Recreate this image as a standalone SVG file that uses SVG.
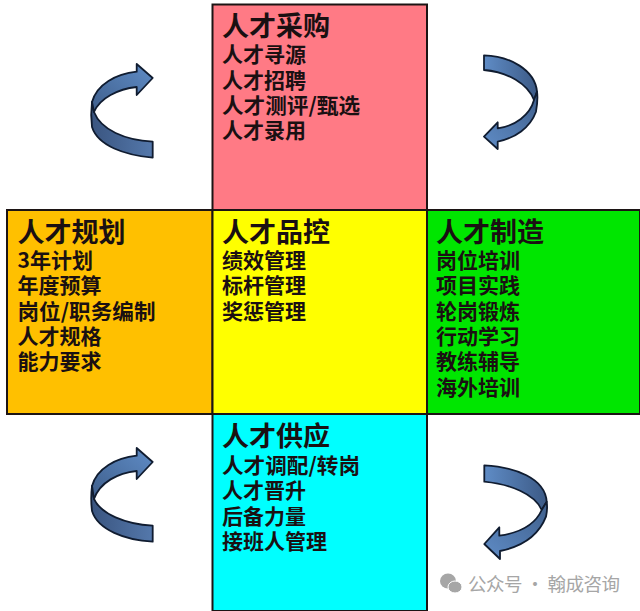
<svg xmlns="http://www.w3.org/2000/svg" width="640" height="611" viewBox="0 0 640 611">
<style>
.box{stroke:#1c1414;stroke-width:2}
.t{font-family:"Noto Sans CJK SC","Liberation Sans",sans-serif;font-weight:700;fill:#1a1012}
.h{font-size:27px}
.i{font-size:21px}
.w{font-family:"Noto Sans CJK SC","Liberation Sans",sans-serif;font-size:18.500px;fill:#a6a6a6}
.ar{stroke:#101c30;stroke-width:1.8;stroke-linejoin:round}
</style>
<defs>
<linearGradient id="up" x1="0" y1="1" x2="1" y2="0"><stop offset="0" stop-color="#3f5f8c"/><stop offset="1" stop-color="#5f8cc6"/></linearGradient>
<linearGradient id="lo" x1="0" y1="0" x2="1" y2="0"><stop offset="0" stop-color="#3a5580"/><stop offset="1" stop-color="#5478ab"/></linearGradient>
<linearGradient id="ru" x1="0" y1="0" x2="1" y2="0"><stop offset="0" stop-color="#5f8cc6"/><stop offset="1" stop-color="#3c5a86"/></linearGradient>
<linearGradient id="rl" x1="1" y1="0" x2="0" y2="1"><stop offset="0" stop-color="#3f5f8c"/><stop offset="1" stop-color="#5f8cc6"/></linearGradient>
</defs>
<rect width="640" height="611" fill="#fff"/>
<g id="connectors">
<g id="arrow-top-left">
<path class="ar" fill="url(#lo)" d="M92 102C91 110 91 119 92 127C98 146 125 155 152.700 157.700V141.700C125 140 101 130 94 112Z"/>
<path class="ar" fill="url(#up)" d="M92 102C97 84 116 74 136.700 71.700V64L152.700 78L136.700 95V87C118 89 100 98 94 112Z"/>
</g>
<g id="arrow-bottom-left">
<path class="ar" fill="url(#lo)" d="M92 486C91 494 91 503 92 511C98 530 125 540 152.700 541.700V525.700C125 524 101 514 94 499Z"/>
<path class="ar" fill="url(#up)" d="M92 486C97 468 116 458 136.700 455.700V448L152.700 462L136.700 479V471C118 473 100 482 94 499Z"/>
</g>
<g id="arrow-top-right">
<path class="ar" fill="url(#ru)" d="M484 55.300C510 56 535 70 537 91.700L534 100C528 84 508 72 484 70Z"/>
<path class="ar" fill="url(#rl)" d="M537 91.700C538 98 537 106 536 111.700C530 128 515 138 497.700 141.700V149L484 136.700L497.700 122.300V128.300C515 126 530 115 534 100Z"/>
</g>
<g id="arrow-bottom-right">
<path class="ar" fill="url(#ru)" d="M484.300 465.300C515 467 545 478 546.700 501.700L541.700 510C535 494 510 484 484.300 481.700Z"/>
<path class="ar" fill="url(#rl)" d="M546.700 501.700C547.500 507 547 512 546 516.700C538 537 520 547 500 551V559L484.300 544L499.300 527.300V535.700C518 533 535 525 541.700 510Z"/>
</g>
</g>
<g id="node-top">
<rect class="box" x="212.500" y="4.500" width="214.500" height="205.500" fill="#ff7a85"/>
<text class="t h" x="222" y="36">人才采购</text>
<text class="t i" x="222" y="62">人才寻源</text>
<text class="t i" x="222" y="88">人才招聘</text>
<text class="t i" x="222" y="113" textLength="138" lengthAdjust="spacingAndGlyphs">人才测评/甄选</text>
<text class="t i" x="222" y="138">人才录用</text>
</g>
<g id="node-left">
<rect class="box" x="7" y="210" width="205.500" height="204" fill="#ffc000"/>
<text class="t h" x="17.500" y="242">人才规划</text>
<text class="t i" x="17.500" y="268">3年计划</text>
<text class="t i" x="17.500" y="293">年度预算</text>
<text class="t i" x="17.500" y="319" textLength="138" lengthAdjust="spacingAndGlyphs">岗位/职务编制</text>
<text class="t i" x="17.500" y="344">人才规格</text>
<text class="t i" x="17.500" y="369">能力要求</text>
</g>
<g id="node-center">
<rect class="box" x="212.500" y="210" width="214.500" height="204" fill="#ffff00"/>
<text class="t h" x="222" y="242">人才品控</text>
<text class="t i" x="222" y="268">绩效管理</text>
<text class="t i" x="222" y="293">标杆管理</text>
<text class="t i" x="222" y="319">奖惩管理</text>
</g>
<g id="node-right">
<rect class="box" x="427" y="210" width="213" height="204" fill="#00e600"/>
<text class="t h" x="436" y="242">人才制造</text>
<text class="t i" x="436" y="268">岗位培训</text>
<text class="t i" x="436" y="293">项目实践</text>
<text class="t i" x="436" y="319">轮岗锻炼</text>
<text class="t i" x="436" y="344">行动学习</text>
<text class="t i" x="436" y="369">教练辅导</text>
<text class="t i" x="436" y="395">海外培训</text>
</g>
<g id="node-bottom">
<rect class="box" x="212.500" y="414" width="214.500" height="197" fill="#00ffff"/>
<text class="t h" x="222" y="446">人才供应</text>
<text class="t i" x="222" y="473" textLength="138" lengthAdjust="spacingAndGlyphs">人才调配/转岗</text>
<text class="t i" x="222" y="498">人才晋升</text>
<text class="t i" x="222" y="524">后备力量</text>
<text class="t i" x="222" y="549">接班人管理</text>
</g>
<g id="watermark">
<ellipse cx="448" cy="581" rx="8" ry="7.500" fill="#a6a6a6"/>
<ellipse cx="455" cy="587" rx="7" ry="6" fill="#a6a6a6" stroke="#fff" stroke-width="1"/>
<text class="w" x="468" y="591" textLength="152" lengthAdjust="spacing">公众号 · 翰成咨询</text>
</g>
</svg>
